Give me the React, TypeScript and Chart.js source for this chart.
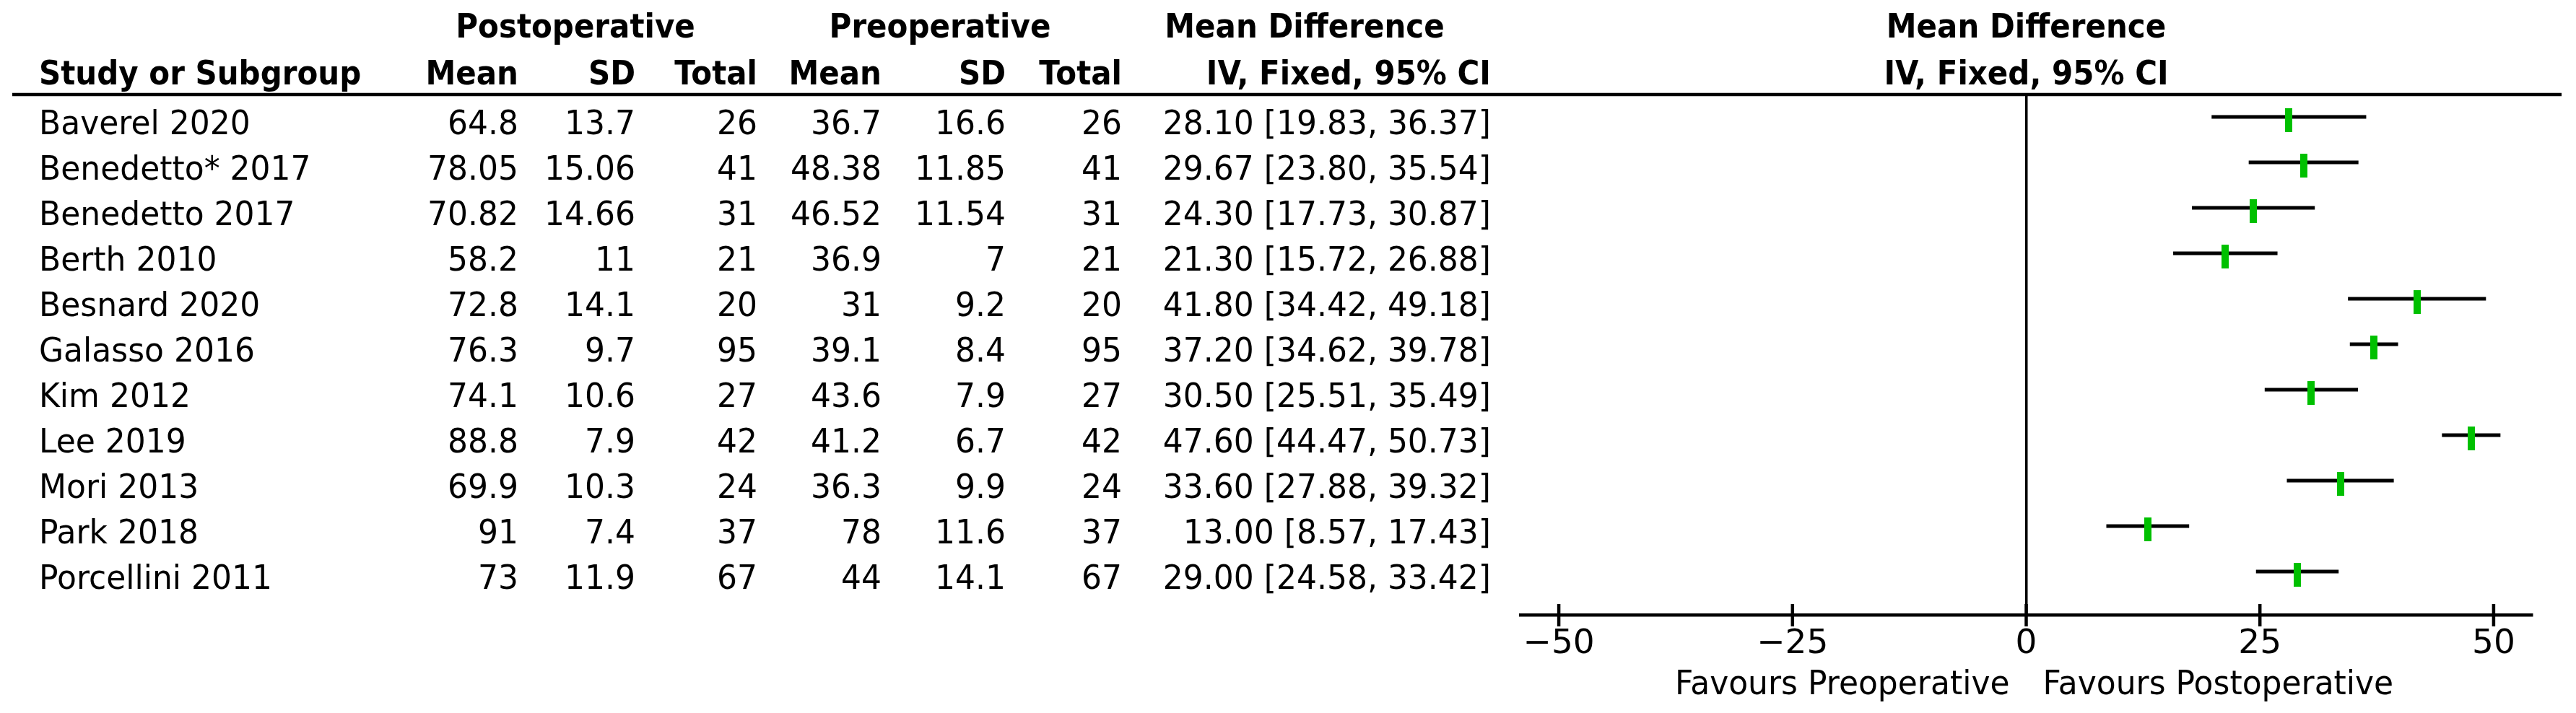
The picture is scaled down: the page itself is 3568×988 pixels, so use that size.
import React, { useEffect, useRef } from "react";
import { Chart, registerables } from "chart.js";

Chart.register(...registerables);

// ---------- data ----------
const STUDIES = [
  "Baverel 2020",
  "Benedetto* 2017",
  "Benedetto 2017",
  "Berth 2010",
  "Besnard 2020",
  "Galasso 2016",
  "Kim 2012",
  "Lee 2019",
  "Mori 2013",
  "Park 2018",
  "Porcellini 2011",
];
const POST_MEAN = ["64.8", "78.05", "70.82", "58.2", "72.8", "76.3", "74.1", "88.8", "69.9", "91", "73"];
const POST_SD = ["13.7", "15.06", "14.66", "11", "14.1", "9.7", "10.6", "7.9", "10.3", "7.4", "11.9"];
const POST_TOTAL = [26, 41, 31, 21, 20, 95, 27, 42, 24, 37, 67];
const PRE_MEAN = ["36.7", "48.38", "46.52", "36.9", "31", "39.1", "43.6", "41.2", "36.3", "78", "44"];
const PRE_SD = ["16.6", "11.85", "11.54", "7", "9.2", "8.4", "7.9", "6.7", "9.9", "11.6", "14.1"];
const PRE_TOTAL = [26, 41, 31, 21, 20, 95, 27, 42, 24, 37, 67];
const MD = [28.1, 29.67, 24.3, 21.3, 41.8, 37.2, 30.5, 47.6, 33.6, 13.0, 29.0];
const CI_LOW = [19.83, 23.8, 17.73, 15.72, 34.42, 34.62, 25.51, 44.47, 27.88, 8.57, 24.58];
const CI_HIGH = [36.37, 35.54, 30.87, 26.88, 49.18, 39.78, 35.49, 50.73, 39.32, 17.43, 33.42];
const X_TICKS = [-50, -25, 0, 25, 50];
const X_MIN = -54.1;
const X_MAX = 54.1;

const HEADER_GROUPS = ["Postoperative", "Preoperative", "Mean Difference"];
const HEADER_COLS = ["Mean", "SD", "Total", "Mean", "SD", "Total", "IV, Fixed, 95% CI"];
const PLOT_HEADER = ["Mean Difference", "IV, Fixed, 95% CI"];
const FAVOURS_LEFT = "Favours Preoperative";
const FAVOURS_RIGHT = "Favours Postoperative";

// ---------- layout / style ----------
const W = 3552;
const H = 972;
const FAMILY = "'DejaVu Sans', sans-serif";
const REG = `45.5px ${FAMILY}`;
const REG_SX = 0.967;
const BOLD = `bold 46px ${FAMILY}`;
const BOLD_SX = 0.913;
const GREEN = "#00c000";

const NAME_X = 46;
const COL_RIGHT = [710, 872, 1041, 1213, 1385, 1546, 2057];
const GROUP_CENTER = [789, 1294, 1799];
const HEAD1_Y = 44;
const HEAD2_Y = 109;
const ROW_BASELINE_OFFSET = 24;

function fmtTick(v: number) {
  return v < 0 ? "\u2212" + Math.abs(v) : String(v);
}

function drawText(
  ctx: CanvasRenderingContext2D,
  text: string,
  x: number,
  y: number,
  align: CanvasTextAlign,
  sx: number
) {
  ctx.save();
  ctx.translate(x, y);
  ctx.scale(sx, 1);
  ctx.textAlign = align;
  ctx.fillText(text, 0, 0);
  ctx.restore();
}

export default function App() {
  const ref = useRef<HTMLCanvasElement>(null);

  useEffect(() => {
    const canvas = ref.current;
    if (!canvas) return;

    // green study marker (bar), sitting slightly below the CI line like the source
    const marker = document.createElement("canvas");
    marker.width = 10;
    marker.height = 42;
    const mctx = marker.getContext("2d")!;
    mctx.fillStyle = GREEN;
    mctx.fillRect(0, 9, 10, 33);

    const ciSets: any[] = STUDIES.map((s, i) => ({
      type: "line",
      label: s,
      data: [
        { x: CI_LOW[i], y: i },
        { x: CI_HIGH[i], y: i },
      ],
      borderColor: "#000",
      borderWidth: 5,
      borderCapStyle: "butt",
      pointRadius: 0,
      showLine: true,
      fill: false,
    }));

    const markerSet: any = {
      type: "scatter",
      label: "Mean Difference",
      data: MD.map((v, i) => ({ x: v, y: i })),
      pointStyle: marker,
      pointRadius: 16,
      backgroundColor: GREEN,
      borderColor: GREEN,
    };

    const tablePlugin = {
      id: "forestTable",
      afterDraw(chart: any) {
        const ctx = chart.ctx as CanvasRenderingContext2D;
        const ys = chart.scales.y;
        const xs = chart.scales.x;
        const ca = chart.chartArea;
        ctx.save();
        ctx.fillStyle = "#000";
        ctx.strokeStyle = "#000";

        // header rule
        ctx.lineWidth = 4.5;
        ctx.beginPath();
        ctx.moveTo(9, ca.top);
        ctx.lineTo(3540, ca.top);
        ctx.stroke();

        // tick marks crossing the axis
        for (const t of xs.ticks) {
          const px = xs.getPixelForValue(t.value);
          ctx.beginPath();
          ctx.moveTo(px, ca.bottom - 15);
          ctx.lineTo(px, ca.bottom + 16);
          ctx.stroke();
        }

        ctx.textBaseline = "alphabetic";

        // headers
        ctx.font = BOLD;
        HEADER_GROUPS.forEach((h, k) => drawText(ctx, h, GROUP_CENTER[k], HEAD1_Y, "center", BOLD_SX));
        const plotCenter = (ca.left + ca.right) / 2;
        drawText(ctx, PLOT_HEADER[0], plotCenter, HEAD1_Y, "center", BOLD_SX);
        drawText(ctx, PLOT_HEADER[1], plotCenter, HEAD2_Y, "center", BOLD_SX);
        drawText(ctx, "Study or Subgroup", NAME_X, HEAD2_Y, "left", BOLD_SX);
        HEADER_COLS.forEach((h, k) => drawText(ctx, h, COL_RIGHT[k], HEAD2_Y, "right", BOLD_SX));

        // rows
        ctx.font = REG;
        STUDIES.forEach((s, i) => {
          const y = ys.getPixelForValue(i) + ROW_BASELINE_OFFSET;
          drawText(ctx, s, NAME_X, y, "left", REG_SX);
          const cells = [
            POST_MEAN[i],
            POST_SD[i],
            String(POST_TOTAL[i]),
            PRE_MEAN[i],
            PRE_SD[i],
            String(PRE_TOTAL[i]),
            `${MD[i].toFixed(2)} [${CI_LOW[i].toFixed(2)}, ${CI_HIGH[i].toFixed(2)}]`,
          ];
          cells.forEach((c, k) => drawText(ctx, c, COL_RIGHT[k], y, "right", REG_SX));
        });

        // favours labels
        const zero = xs.getPixelForValue(0);
        drawText(ctx, FAVOURS_LEFT, zero - 23, 954, "right", REG_SX);
        drawText(ctx, FAVOURS_RIGHT, zero + 23, 954, "left", REG_SX);
        ctx.restore();
      },
    };

    const chart = new Chart(canvas, {
      type: "scatter",
      data: { datasets: [markerSet, ...ciSets] },
      options: {
        animation: false,
        responsive: false,
        maintainAspectRatio: false,
        events: [],
        layout: { padding: { left: 2098, right: 53, top: 123, bottom: 0 } },
        plugins: { legend: { display: false }, tooltip: { enabled: false } },
        scales: {
          x: {
            type: "linear",
            min: X_MIN,
            max: X_MAX,
            afterBuildTicks: (scale: any) => {
              scale.ticks = X_TICKS.map((v) => ({ value: v }));
            },
            afterFit: (scale: any) => {
              scale.height = 128;
            },
            grid: {
              drawTicks: false,
              lineWidth: 3.5,
              color: (c: any) => (c.tick && c.tick.value === 0 ? "#000" : "rgba(0,0,0,0)"),
            },
            border: { display: true, color: "#000", width: 4.5 },
            ticks: {
              padding: 13,
              color: "#000",
              font: { family: FAMILY, size: 47 },
              callback: (v: any) => fmtTick(Number(v)),
              maxRotation: 0,
              autoSkip: false,
            },
          },
          y: {
            type: "linear",
            display: false,
            reverse: true,
            min: -0.492,
            max: 10.952,
          },
        },
      } as any,
      plugins: [tablePlugin],
    });

    return () => chart.destroy();
  }, []);

  return <canvas ref={ref} width={W} height={H} style={{ display: "block", width: W, height: H }} />;
}
